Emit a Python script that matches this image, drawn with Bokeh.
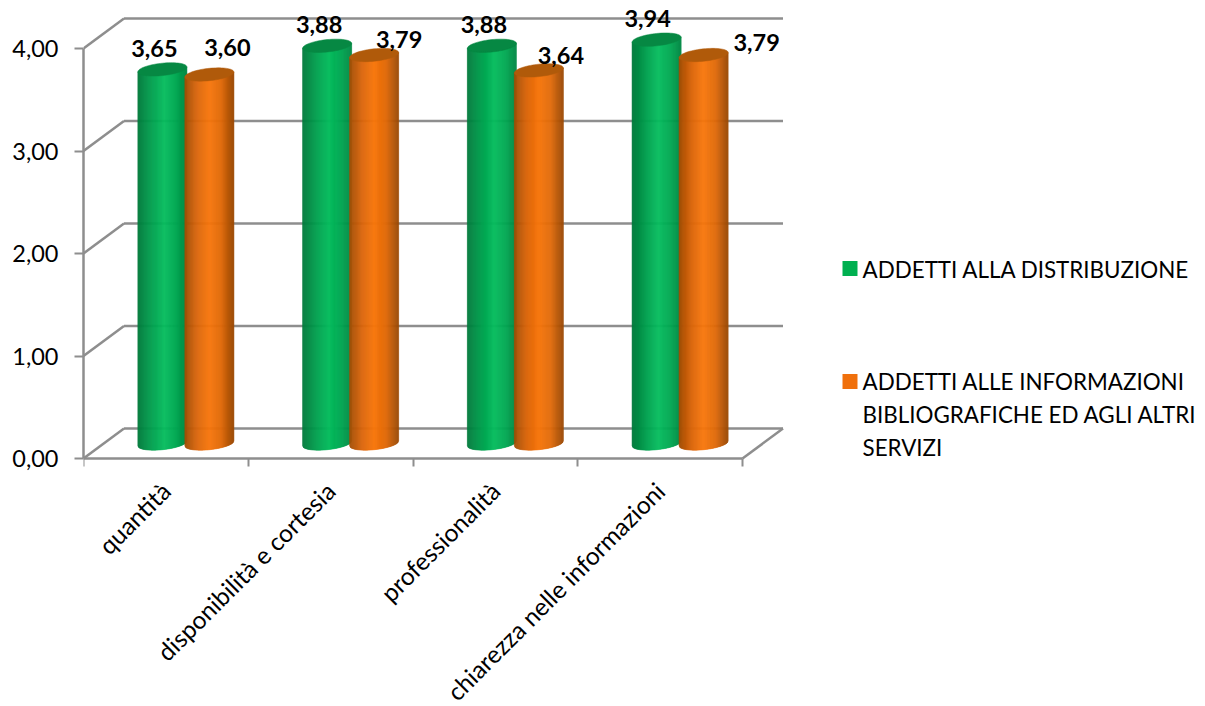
import math
import numpy as np
from bokeh.core.properties import value
from bokeh.embed import file_html
from bokeh.models import FixedTicker
from bokeh.plotting import figure
from bokeh.resources import INLINE

# Series and labels
categories = ["quantità", "disponibilità e cortesia", "professionalità", "chiarezza nelle informazioni"]
distribuzione = [3.65, 3.88, 3.88, 3.94]
informazioni = [3.60, 3.79, 3.64, 3.79]
value_ticks = [0, 1, 2, 3, 4]
value_tick_labels = ["0,00", "1,00", "2,00", "3,00", "4,00"]
legend_distribuzione = ["ADDETTI ALLA DISTRIBUZIONE"]
legend_informazioni = ["ADDETTI ALLE INFORMAZIONI", "BIBLIOGRAFICHE ED AGLI ALTRI", "SERVIZI"]

# Page geometry: pixels per data unit and the frame's margins
W, H = 1205, 706
LEFT, BASELINE = 83, 458
UX, UY = 164.75, 102.5
FONT = "Lato"
GREY = "#8e8e8e"

# Oblique projection of the chart box
DEPTH_X, DEPTH_Y = 40.5 / UX, 30 / UY
BAR_HALF = 24.5 / UX
BAR_SHIFT = 23.5 / UX
BAR_CENTRE = 20 / UX
FLOOR = 15 / UY
CAP_B = 6.2 / UY
TILT = 0.1 * UX / UY

GREEN_STOPS = [(0, "#037a3c"), (0.3, "#00a14f"), (0.55, "#06bd5e"), (0.8, "#01a651"), (1, "#018844")]
ORANGE_STOPS = [(0, "#a04d05"), (0.25, "#d9650b"), (0.5, "#f8760b"), (0.75, "#e06a0a"), (1, "#9a4a05")]
GREEN_CAP, ORANGE_CAP = "#068843", "#b05a0a"
GREEN_KEY, ORANGE_KEY = "#00b050", "#f0700c"


def shade(stops, t):
    for (t0, c0), (t1, c1) in zip(stops, stops[1:]):
        if t <= t1:
            k = (t - t0) / (t1 - t0)
            a = [int(c0[i:i + 2], 16) for i in (1, 3, 5)]
            b = [int(c1[i:i + 2], 16) for i in (1, 3, 5)]
            return "#%02x%02x%02x" % tuple(round(u + (v - u) * k) for u, v in zip(a, b))
    return stops[-1][1]


def px(x):
    return (x - LEFT) / UX


def py(y):
    return (BASELINE - y) / UY


# The frame runs down to the page's edge; the category axis sits at value 0 inside it
p = figure(
    width=W, height=H, output_backend="svg", toolbar_location=None,
    x_range=(0, (W - LEFT) / UX), y_range=(py(H), py(0)),
    min_border_left=LEFT, min_border_right=0, min_border_top=0, min_border_bottom=0,
    background_fill_color="white", border_fill_color="white", outline_line_color=None,
)
p.grid.visible = False

# Axes: value ticks on the left wall, category labels centred between boundary ticks
ya = p.yaxis[0]
ya.ticker = FixedTicker(ticks=value_ticks, minor_ticks=[])
ya.major_label_overrides = dict(zip(value_ticks, value_tick_labels))
ya.bounds = (0, 4)
ya.major_tick_in, ya.major_tick_out = 0, 9
ya.major_label_standoff = 16

xa = p.xaxis[0]
boundaries = list(range(len(categories) + 1))
centres = [i + 0.5 for i in range(len(categories))]
xa.fixed_location = 0
xa.ticker = FixedTicker(ticks=centres, minor_ticks=boundaries)
xa.major_label_overrides = dict(zip(centres, categories))
xa.major_label_orientation = math.pi / 4
xa.bounds = (0, len(categories))
xa.major_tick_in, xa.major_tick_out = 0, 0
xa.minor_tick_in, xa.minor_tick_out = 0, 8
xa.major_label_standoff = 20

for ax in (xa, ya):
    ax.axis_line_color = GREY
    ax.axis_line_width = 2.5
    ax.major_tick_line_color = GREY
    ax.major_tick_line_width = 2
    ax.minor_tick_line_color = GREY
    ax.minor_tick_line_width = 2
    ax.major_label_text_font = FONT
    ax.major_label_text_color = "black"
xa.major_label_text_font_size = "24.5px"
ya.major_label_text_font_size = "23.5px"

# Back-wall gridlines, wall diagonals and floor edge
end = len(categories)
p.segment(x0=[0] * 5, y0=value_ticks, x1=[DEPTH_X] * 5, y1=[v + DEPTH_Y for v in value_ticks],
          line_color=GREY, line_width=2.5)
p.segment(x0=[DEPTH_X] * 5, y0=[v + DEPTH_Y for v in value_ticks],
          x1=[end + DEPTH_X] * 5, y1=[v + DEPTH_Y for v in value_ticks],
          line_color=GREY, line_width=2.5)
p.segment(x0=[end], y0=[0], x1=[end + DEPTH_X], y1=[DEPTH_Y], line_color=GREY, line_width=2.5)


def cylinder(cx, height, stops, cap_color):
    """One upright cylinder: vertical shaded strips closed by a darker elliptical cap."""
    n = 50
    edges = np.linspace(-BAR_HALF, BAR_HALF, n + 1)
    xs, ys, colors = [], [], []
    for a, b in zip(edges[:-1], edges[1:]):
        sa = math.sqrt(max(0.0, 1 - (a / BAR_HALF) ** 2))
        sb = math.sqrt(max(0.0, 1 - (b / BAR_HALF) ** 2))
        xs.append([cx + a, cx + b, cx + b, cx + a])
        ys.append([FLOOR + TILT * a - CAP_B * sa, FLOOR + TILT * b - CAP_B * sb,
                   FLOOR + height + TILT * b, FLOOR + height + TILT * a])
        colors.append(shade(stops, ((a + b) / 2 + BAR_HALF) / (2 * BAR_HALF)))
    p.patches(xs, ys, fill_color=colors, line_color=colors, line_width=0.6)

    theta = np.linspace(0, 2 * math.pi, 73)
    dx = BAR_HALF * np.cos(theta)
    p.patch(cx + dx, FLOOR + height + TILT * dx + CAP_B * np.sin(theta),
            fill_color=cap_color, line_color=cap_color, line_width=0.5)


# Within each group the orange cylinder overlaps the green one
for i in range(len(categories)):
    mid = i + 0.5 + BAR_CENTRE
    cylinder(mid - BAR_SHIFT, distribuzione[i], GREEN_STOPS, GREEN_CAP)
    cylinder(mid + BAR_SHIFT, informazioni[i], ORANGE_STOPS, ORANGE_CAP)

# Value labels, nudged off the cylinder tops in pixels
green_nudge_x, green_nudge_y = [-8, -8, -8, -9], [21, 21, 21, 21]
orange_nudge_x, orange_nudge_y = [18, 25, 22, 53], [27, 15.5, 15, 12.5]
for series, sign, nx, ny in ((distribuzione, -1, green_nudge_x, green_nudge_y),
                             (informazioni, 1, orange_nudge_x, orange_nudge_y)):
    p.text(
        x=[i + 0.5 + BAR_CENTRE + sign * BAR_SHIFT for i in range(len(categories))],
        y=[FLOOR + v for v in series],
        text=[f"{v:.2f}".replace(".", ",") for v in series],
        x_offset=nx, y_offset=[-d for d in ny],
        text_font=value(FONT), text_font_size="23.5px", text_font_style="bold",
        text_color="black", text_align="center", text_baseline="middle",
    )

# Legend keys and entries
for key_color, key_y, lines, first_y in ((GREEN_KEY, 268, legend_distribuzione, 269),
                                         (ORANGE_KEY, 381, legend_informazioni, 381)):
    p.rect(x=[px(849.5)], y=[py(key_y)], width=15, height=15, width_units="screen", height_units="screen",
           fill_color=key_color, line_color=None)
    p.text(x=[px(862)] * len(lines), y=[py(first_y + 33 * k) for k in range(len(lines))], text=lines,
           text_font=value(FONT), text_font_size="22.4px", text_color="black",
           text_align="left", text_baseline="middle")

open("out.html", "w").write(file_html(p, INLINE))
